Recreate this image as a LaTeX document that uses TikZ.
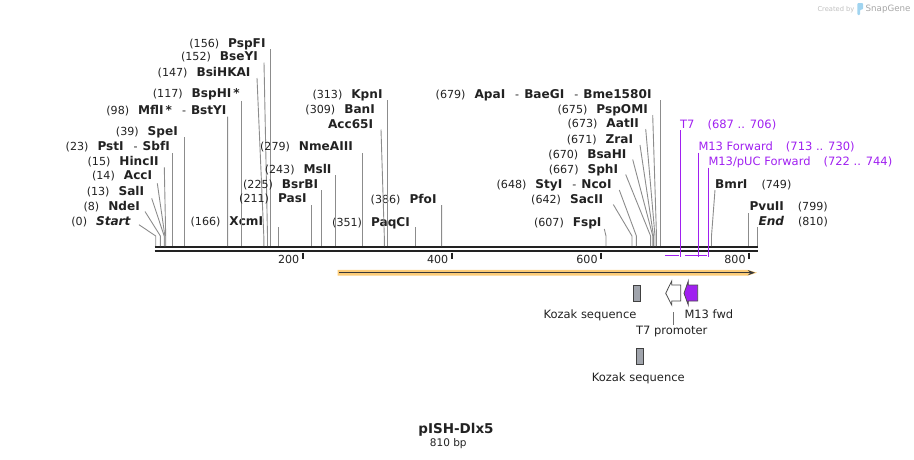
\documentclass[tikz,border=0pt]{standalone}
\usepackage{fontspec}
\setmainfont{DejaVu Sans}
\usetikzlibrary{arrows.meta}

\definecolor{primer}{RGB}{160,32,240}
\definecolor{bbone}{RGB}{34,34,34}
\definecolor{cdsorange}{RGB}{252,204,120}
\definecolor{kozakgray}{RGB}{160,164,172}
\definecolor{logoblue}{RGB}{160,212,240}

\newcommand{\enzname}[1]{{\fontsize{12.1}{14}\selectfont\bfseries #1}}
\newcommand{\enzsep}{\hspace{10pt}-\hspace{5pt}}

\tikzset{
    site/.style={inner sep=0pt, font=\fontsize{11.1}{13}\selectfont, text=bbone},
    leftsite/.style={site, anchor=base east},
    rightsite/.style={site, anchor=base west},
    leader/.style={draw=black!45, line width=0.9pt},
    primerlbl/.style={inner sep=0pt, anchor=base west, font=\fontsize{11.5}{13}\selectfont, text=primer},
    primerline/.style={draw=primer, line width=1.5pt},
    featline/.style={draw=black!70, line width=0.8pt},
    kozak/.style={draw=black!75, fill=kozakgray, line width=0.8pt, inner sep=0pt, minimum width=7pt, minimum height=16pt},
    featlbl/.style={inner sep=0pt, anchor=base, font=\fontsize{11.5}{13}\selectfont, text=bbone},
}

\begin{document}
\begin{tikzpicture}[x=1pt,y=-1pt]
    \useasboundingbox (0,0) rectangle (914,459);

    % Logo
    \node[inner sep=0pt, anchor=base west, font=\fontsize{6.7}{8}\selectfont, text=black!25] (created) at (817.3,11) {Created by};
    \fill[logoblue, rounded corners=1pt] (857.3,3) -- (863,3) -- (863,9.5) -- (860,9.5) -- (860,15) -- (857.3,15) -- cycle;
    \node[inner sep=0pt, anchor=base west, font=\fontsize{8.7}{10}\selectfont, text=black!35] (snapgene) at (865.5,11.5) {SnapGene};

    % Backbone
    \draw[bbone, line width=2.3pt] (154.5,247.2) -- (758,247.2);
    \draw[bbone, line width=2.3pt] (154.5,251.2) -- (758,251.2);

    % Ruler
    \draw[bbone, line width=1.6pt] (302.7,252.5) -- (302.7,259.3);
    \node[site, anchor=east] (r200) at (299.5,259) {200};
    \draw[bbone, line width=1.6pt] (451.7,252.5) -- (451.7,259.3);
    \node[site, anchor=east] (r400) at (448.5,259) {400};
    \draw[bbone, line width=1.6pt] (601,252.5) -- (601,259.3);
    \node[site, anchor=east] (r600) at (597.8,259) {600};
    \draw[bbone, line width=1.6pt] (749,252.5) -- (749,259.3);
    \node[site, anchor=east] (r800) at (745.8,259) {800};

    % Sites, left cluster
    \node[leftsite] (pspfi) at (265.7,47.3) {(156)\hspace{9pt}\enzname{PspFI}};
    \node[leftsite] (bseyi) at (258,60.7) {(152)\hspace{9pt}\enzname{BseYI}};
    \node[leftsite] (bsihkai) at (250.7,76.3) {(147)\hspace{9pt}\enzname{BsiHKAI}};
    \node[leftsite] (bsphi) at (240,97.3) {(117)\hspace{9pt}\enzname{BspHI\,*}};
    \node[leftsite] (mfli) at (226.7,114) {(98)\hspace{9pt}\enzname{MflI\,*}\enzsep\enzname{BstYI}};
    \node[leftsite] (spei) at (178,135.7) {(39)\hspace{9pt}\enzname{SpeI}};
    \node[leftsite] (psti) at (170,150.7) {(23)\hspace{9pt}\enzname{PstI}\enzsep\enzname{SbfI}};
    \node[leftsite] (hincii) at (158.7,165) {(15)\hspace{9pt}\enzname{HincII}};
    \node[leftsite] (acci) at (152.3,179.7) {(14)\hspace{9pt}\enzname{AccI}};
    \node[leftsite] (sali) at (144.3,195.7) {(13)\hspace{9pt}\enzname{SalI}};
    \node[leftsite] (ndei) at (140,210.7) {(8)\hspace{9pt}\enzname{NdeI}};
    \node[leftsite] (start) at (130.7,225.7) {(0)\hspace{9pt}\enzname{\itshape Start}};
    \node[leftsite] (xcmi) at (263.3,225.7) {(166)\hspace{9pt}\enzname{XcmI}};

    \draw[leader] (pspfi.base east) ++(5.1,1.7) -- (270.8,246);
    \draw[leader] (bseyi.base east) ++(6,1.8) -- (267.5,236) -- (267.5,246);
    \draw[leader] (bsihkai.base east) ++(6.3,1.7) -- (263.8,236) -- (263.8,246);
    \draw[leader] (bsphi.base east) ++(1.7,3.5) -- (241.7,246);
    \draw[leader] (mfli.base east) ++(0.9,2.5) -- (227.6,246);
    \draw[leader] (spei.base east) ++(6,1.3) -- (184,246);
    \draw[leader] (psti.base east) ++(2.3,2.3) -- (172.3,246);
    \draw[leader] (hincii.base east) ++(5.6,2.3) -- (165.7,236) -- (165.7,246);
    \draw[leader] (acci.base east) ++(5,3.6) -- (164.9,236) -- (164.9,246);
    \draw[leader] (sali.base east) ++(7.4,2.6) -- (164.2,236) -- (164.2,246);
    \draw[leader] (ndei.base east) ++(5,0.8) -- (160.4,236) -- (160.4,246);
    \draw[leader] (start.base east) ++(8.3,-1) -- (155.7,236) -- (155.7,246);
    \draw[leader] (xcmi.base east) ++(14.8,1.3) -- (278.1,246);

    % Sites, middle
    \node[leftsite] (nmeaiii) at (353,150.7) {(279)\hspace{9pt}\enzname{NmeAIII}};
    \node[leftsite] (msli) at (331.7,173.3) {(243)\hspace{9pt}\enzname{MslI}};
    \node[leftsite] (bsrbi) at (318.3,188) {(225)\hspace{9pt}\enzname{BsrBI}};
    \node[leftsite] (pasi) at (306.7,202.3) {(211)\hspace{9pt}\enzname{PasI}};
    \node[leftsite] (kpni) at (382.7,98) {(313)\hspace{9pt}\enzname{KpnI}};
    \node[leftsite] (bani) at (375,113.3) {(309)\hspace{9pt}\enzname{BanI}};
    \node[leftsite] (acc65i) at (373.3,128) {\enzname{Acc65I}};
    \node[leftsite] (pfoi) at (436.7,203) {(386)\hspace{9pt}\enzname{PfoI}};
    \node[leftsite] (paqci) at (410,226.3) {(351)\hspace{9pt}\enzname{PaqCI}};

    \draw[leader] (nmeaiii.base east) ++(9,2.3) -- (362,246);
    \draw[leader] (msli.base east) ++(3.5,1.7) -- (335.2,246);
    \draw[leader] (bsrbi.base east) ++(3.5,2) -- (321.8,246);
    \draw[leader] (pasi.base east) ++(4.7,2.7) -- (311.4,246);
    \draw[leader] (kpni.base east) ++(4.6,2) -- (387.3,246);
    \draw[leader] (acc65i.base east) ++(7.7,1.5) -- (384.3,236) -- (384.3,246);
    \draw[leader] (pfoi.base east) ++(4.9,2) -- (441.6,246);
    \draw[leader] (paqci.base east) ++(5.5,0.7) -- (415.5,246);

    % Sites, right cluster
    \node[leftsite] (apai) at (651.7,98) {(679)\hspace{9pt}\enzname{ApaI}\enzsep\enzname{BaeGI}\enzsep\enzname{Bme1580I}};
    \node[leftsite] (pspomi) at (648,113.3) {(675)\hspace{9pt}\enzname{PspOMI}};
    \node[leftsite] (aatii) at (639,127.3) {(673)\hspace{9pt}\enzname{AatII}};
    \node[leftsite] (zrai) at (633.3,143) {(671)\hspace{9pt}\enzname{ZraI}};
    \node[leftsite] (bsahi) at (626.7,158) {(670)\hspace{9pt}\enzname{BsaHI}};
    \node[leftsite] (sphi) at (618.3,173) {(667)\hspace{9pt}\enzname{SphI}};
    \node[leftsite] (styi) at (611.7,188) {(648)\hspace{9pt}\enzname{StyI}\enzsep\enzname{NcoI}};
    \node[leftsite] (sacii) at (603.3,203) {(642)\hspace{9pt}\enzname{SacII}};
    \node[leftsite] (fspi) at (601.7,226.3) {(607)\hspace{9pt}\enzname{FspI}};
    \node[rightsite] (bmri) at (715,188) {\enzname{BmrI}\hspace{14pt}(749)};
    \node[rightsite] (pvuii) at (749.3,210.7) {\enzname{PvuII}\hspace{14pt}(799)};
    \node[rightsite] (endsite) at (758.3,225.7) {\enzname{\itshape End}\hspace{14pt}(810)};

    \draw[leader] (apai.base east) ++(8.6,2) -- (660.3,246);
    \draw[leader] (pspomi.base east) ++(4.7,1.7) -- (656.5,236) -- (656.5,246);
    \draw[leader] (aatii.base east) ++(6.7,1.7) -- (655,236) -- (655,246);
    \draw[leader] (zrai.base east) ++(6.7,2) -- (653.5,236) -- (653.5,246);
    \draw[leader] (bsahi.base east) ++(6,1.5) -- (652.8,236) -- (652.8,246);
    \draw[leader] (sphi.base east) ++(7.4,1.5) -- (650.6,236) -- (650.6,246);
    \draw[leader] (styi.base east) ++(7.6,2) -- (636.4,236) -- (636.4,246);
    \draw[leader] (sacii.base east) ++(10,1.5) -- (632,236) -- (632,246);
    \draw[leader] (fspi.base east) ++(2.6,2.7) -- (606,236) -- (606,246);
    \draw[leader] (bmri.base west) ++(0,2) -- (711.5,236) -- (711.5,246);
    \draw[leader] (pvuii.base west) ++(-0.5,2.3) -- (748.8,246);
    \draw[leader] (endsite.base west) ++(-1.1,1.3) -- (757.2,246);

    % Primers
    \node[primerlbl] (t7lbl) at (680,128) {T7\hspace{13pt}(687 .. 706)};
    \node[primerlbl] (m13flbl) at (698.3,150.7) {M13 Forward\hspace{13pt}(713 .. 730)};
    \node[primerlbl] (m13pucl) at (708.3,165.7) {M13/pUC Forward\hspace{13pt}(722 .. 744)};
    \draw[primerline] (t7lbl.base west) ++(0.5,2) -- (680.5,257);
    \draw[primerline] (m13flbl.base west) ++(0,2) -- (698.3,257);
    \draw[primerline] (m13pucl.base west) ++(0,2) -- (708.3,257);
    \draw[primerline] (665,255.7) -- (679,255.7);
    \draw[primerline] (685,255.7) -- (707,255.7);

    % Feature bar
    \fill[cdsorange] (337.7,269.9) -- (748,269.9) -- (757,272.7) -- (748,275.5) -- (337.7,275.5) -- cycle;
    \draw[bbone!90, line width=1.4pt, -{Stealth[length=7pt, width=5pt]}] (339,272.7) -- (755,272.7);

    % Features
    \node[kozak] (kozak1) at (636.5,293.4) {};
    \node[featlbl] (kozak1lbl) at (590,318.5) {Kozak sequence};
    \draw[featline, fill=white] (665.7,293.3) -- (671.7,281) -- (671.7,285) -- (680.7,285) -- (680.7,301) -- (671.7,301) -- (671.7,305) -- cycle;
    \draw[featline, fill=primer] (684,293.3) -- (688.3,281) -- (688.3,285) -- (697.7,285) -- (697.7,301) -- (688.3,301) -- (688.3,305) -- cycle;
    \node[featlbl] (t7plbl) at (671.7,334) {T7 promoter};
    \coordinate (t7top) at (673.3,312.3);
    \draw[draw=black!55, line width=0.8pt] (t7top) -- (t7top |- t7plbl.north);
    \node[featlbl, anchor=base west] (m13lbl) at (684.3,318.3) {M13 fwd};
    \node[kozak] (kozak2) at (640,356) {};
    \node[featlbl] (kozak2lbl) at (638.3,381.3) {Kozak sequence};

    % Title
    \node[inner sep=0pt, anchor=base, font=\fontsize{13.5}{15}\selectfont\bfseries, text=bbone] (title) at (456,433.3) {pISH-Dlx5};
    \node[inner sep=0pt, anchor=base, font=\fontsize{10.5}{12}\selectfont, text=bbone] (length) at (448.3,446) {810 bp};
\end{tikzpicture}
\end{document}
